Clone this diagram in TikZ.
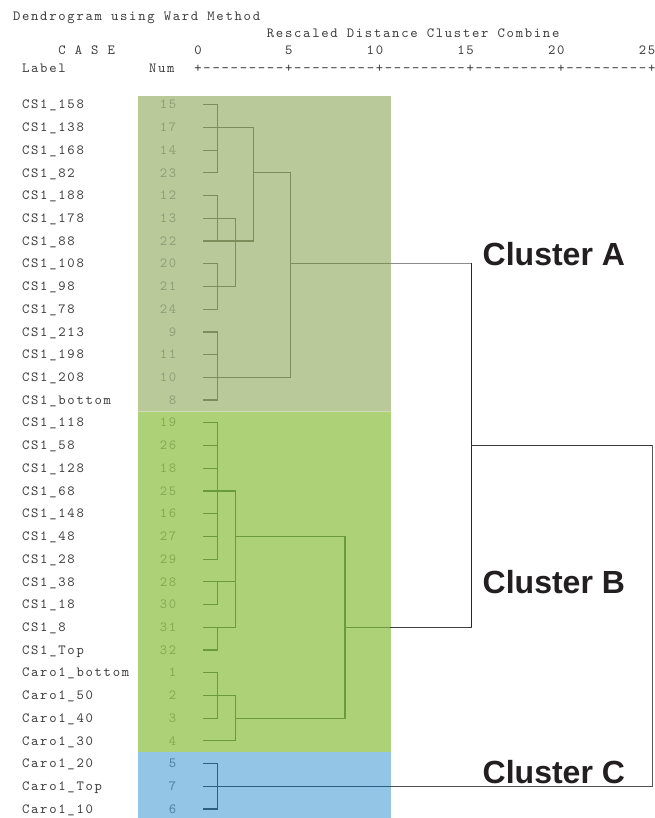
\documentclass[tikz,border=0pt]{standalone}
\usepackage{fontspec}
\setmonofont{lmmono10-regular.otf}[LetterSpace=12.3]
\newfontfamily\clusterfont{Liberation Sans}
\definecolor{bgA}{HTML}{B9C999}
\definecolor{bgB}{HTML}{ADD176}
\definecolor{bgC}{HTML}{92C5E6}
\definecolor{sepAB}{HTML}{CFDCB5}
\definecolor{numA}{HTML}{929D78}
\definecolor{lnA}{HTML}{7F8D5A}
\definecolor{numB}{HTML}{84AA55}
\definecolor{lnB}{HTML}{6A9A3C}
\definecolor{numC}{HTML}{4D7F9E}
\definecolor{lnC}{HTML}{2D5F80}
\definecolor{txt}{HTML}{3C3C3C}
\definecolor{clus}{HTML}{231F20}
\newcommand\ry[1]{104.7+22.72*(#1)}
\newcommand\hseg[4]{\draw[#1] (#3,{\ry{#2}}) -- (#4,{\ry{#2}});}
\newcommand\vseg[4]{\draw[#1] (#2,{\ry{#3}}) -- (#2,{\ry{#4}});}
\begin{document}
\begin{tikzpicture}[x=1pt,y=-1pt,
  monotext/.style={font=\ttfamily\fontsize{14}{16}\selectfont, inner sep=0pt, outer sep=0pt, text=txt},
  numtext/.style={monotext, anchor=base east},
  labtext/.style={monotext, anchor=base west},
  dendA/.style={draw=lnA, line width=1.2pt, line cap=rect},
  dendB/.style={draw=lnB, line width=1.2pt, line cap=rect},
  dendC/.style={draw=lnC, line width=1.2pt, line cap=rect},
  linkgray/.style={draw=#1, line width=1.2pt, line cap=rect},
  clusterlabel/.style={font=\clusterfont\bfseries\fontsize{32}{36}\selectfont, text=clus, inner sep=0pt, anchor=base west}]
\useasboundingbox (0,0) rectangle (654,818);
\fill[white] (0,0) rectangle (654,818);
% coloured bands
\fill[bgA] (138,96.5) rectangle (390.5,411.6);
\fill[bgB] (138,411.6) rectangle (390.5,752.4);
\fill[bgC] (138,752.4) rectangle (390.5,818);
\draw[sepAB, line width=1pt] (138,411.6) -- (390.5,411.6);
% header
\node[labtext] (title) at (13,20.3) {Dendrogram using Ward Method};
\node[labtext] (axistitle) at (266.9,38) {Rescaled Distance Cluster Combine};
\node[labtext] (case) at (58.4,55) {C A S E};
\node[labtext] (t0) at (194.4,55) {0};
\node[labtext] (t5) at (285.1,55) {5};
\node[labtext] (t10) at (366.7,55) {10};
\node[labtext] (t15) at (457.4,55) {15};
\node[labtext] (t20) at (548.1,55) {20};
\node[labtext] (t25) at (638.8,55) {25};
\node[labtext] (hlabel) at (22.1,72.8) {Label};
\node[labtext] (hnum) at (149.1,72.8) {Num};
\node[labtext] (scale) at (194.4,72.8) {+---------+---------+---------+---------+---------+};
% rows
\foreach \lab/\num [count=\i from 0] in {CS1\_158/15,CS1\_138/17,CS1\_168/14,CS1\_82/23,CS1\_188/12,CS1\_178/13,CS1\_88/22,CS1\_108/20,CS1\_98/21,CS1\_78/24,CS1\_213/9,CS1\_198/11,CS1\_208/10,CS1\_bottom/8}{
  \node[labtext] (lab\i) at (22.1,{\ry{\i}+4.2}) {\lab};
  \node[numtext, text=numA] (num\i) at (176.3,{\ry{\i}+4.2}) {\num};
  \hseg{dendA}{\i}{203.5}{217.1}
}
\foreach \lab/\num [count=\i from 14] in {CS1\_118/19,CS1\_58/26,CS1\_128/18,CS1\_68/25,CS1\_148/16,CS1\_48/27,CS1\_28/29,CS1\_38/28,CS1\_18/30,CS1\_8/31,CS1\_Top/32,Caro1\_bottom/1,Caro1\_50/2,Caro1\_40/3,Caro1\_30/4}{
  \node[labtext] (lab\i) at (22.1,{\ry{\i}+4.2}) {\lab};
  \node[numtext, text=numB] (num\i) at (176.3,{\ry{\i}+4.2}) {\num};
  \hseg{dendB}{\i}{203.5}{217.1}
}
\foreach \lab/\num [count=\i from 29] in {Caro1\_20/5,Caro1\_Top/7,Caro1\_10/6}{
  \node[labtext] (lab\i) at (22.1,{\ry{\i}+4.2}) {\lab};
  \node[numtext, text=numC] (num\i) at (176.3,{\ry{\i}+4.2}) {\num};
  \hseg{dendC}{\i}{203.5}{217.1}
}
% cluster A tree
\vseg{dendA}{217.1}{0}{3}
\vseg{dendA}{217.1}{4}{6}
\vseg{dendA}{217.1}{7}{9}
\vseg{dendA}{217.1}{10}{13}
\hseg{dendA}{1}{203.5}{253.4}
\hseg{dendA}{5}{203.5}{235.2}
\hseg{dendA}{6}{203.5}{253.4}
\hseg{dendA}{8}{203.5}{235.2}
\vseg{dendA}{235.2}{5}{8}
\vseg{dendA}{253.4}{1}{6}
\hseg{dendA}{3}{253.4}{290.6}
\hseg{dendA}{12}{203.5}{290.6}
\vseg{dendA}{290.6}{3}{12}
\hseg{dendA}{7}{290.6}{390.5}
% cluster B tree
\vseg{dendB}{217.1}{14}{20}
\vseg{dendB}{217.1}{21}{22}
\vseg{dendB}{217.1}{23}{24}
\vseg{dendB}{217.1}{25}{27}
\hseg{dendB}{17}{203.5}{235.2}
\hseg{dendB}{21}{203.5}{235.2}
\hseg{dendB}{23}{203.5}{235.2}
\vseg{dendB}{235.2}{17}{23}
\hseg{dendB}{19}{235.2}{344.9}
\hseg{dendB}{26}{203.5}{235.2}
\hseg{dendB}{28}{203.5}{235.2}
\vseg{dendB}{235.2}{26}{28}
\hseg{dendB}{27}{235.2}{344.9}
\vseg{dendB}{344.9}{19}{27}
\hseg{dendB}{23}{344.9}{390.5}
% cluster C tree
\vseg{dendC}{217.1}{29}{31}
\hseg{dendC}{30}{203.5}{390.5}
% links outside the bands
\hseg{linkgray=black!45}{7}{390.5}{471.2}
\vseg{linkgray=black!85}{471.2}{7}{23}
\hseg{linkgray=black!75}{23}{390.5}{471.2}
\hseg{linkgray=black!78}{15}{471.2}{652.5}
\vseg{linkgray=black!65}{652.5}{15}{30}
\hseg{linkgray=black!68}{30}{390.5}{652.5}
% cluster labels
\node[clusterlabel] (clA) at (482.5,265) {Cluster A};
\node[clusterlabel] (clB) at (482.5,593) {Cluster B};
\node[clusterlabel] (clC) at (482.5,783.3) {Cluster C};
\end{tikzpicture}
\end{document}
